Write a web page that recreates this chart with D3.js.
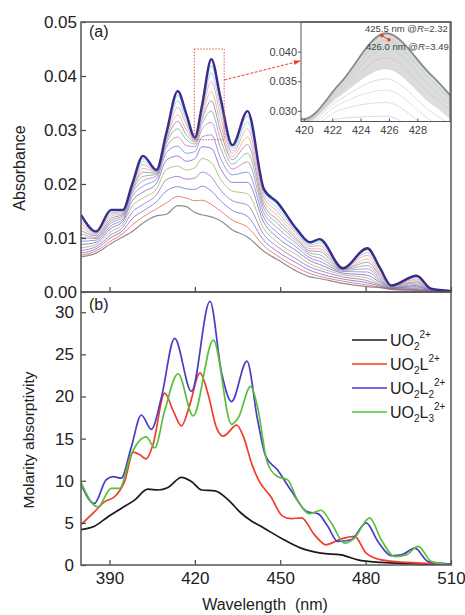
<!DOCTYPE html>
<html lang="en">
<head>
<meta charset="UTF-8">
<script src="https://cdn.jsdelivr.net/npm/d3@7"></script>
<style>
  body{margin:0;background:#fff;}
  text{font-family:"Liberation Sans",Arial,Helvetica,sans-serif;fill:#222;}
</style>
<title>UO2 spectra</title>
</head>
<body>
<svg width="465" height="615"></svg>
<script>
// ---- panel (a): titration spectra, absorbance in units of 1e-4 ----
var wlA = [380,385.3,390.6,394.7,398,401.8,406.5,410,414,417,420,422.5,425.8,429,433.2,438.5,444.3,449,456,460.5,463.8,472,480.6,485,489,497.9,503,510];
var spectraA = [
  [65,72,90,102,112,128,141,144,160,158,147,143,139,132,115,102,75,60,38,28,25,16,10,8,5,3,2,1],
  [68,76,95,108,124,139,154,165,177,174,169,170,162,150,133,120,85,67,45,34,29,20,13,9,5,4,2,1],
  [72,80,101,114,136,150,167,187,195,191,190,196,187,169,151,140,95,75,53,40,34,24,17,11,6,5,2,1],
  [77,84,106,120,148,162,180,208,214,209,211,222,213,189,169,161,106,84,60,46,40,28,21,13,6,6,3,1],
  [82,88,112,126,159,174,191,227,233,226,230,247,240,209,187,182,117,92,68,52,45,32,26,15,7,8,3,1],
  [88,92,118,131,169,185,201,244,252,242,247,269,266,229,203,203,128,101,75,58,51,35,31,18,7,10,3,1],
  [94,96,123,135,177,196,209,258,270,257,260,287,291,248,217,222,137,110,82,63,57,38,37,21,8,12,3,1],
  [101,99,128,139,183,206,215,268,287,271,269,301,314,267,228,241,146,119,88,68,63,40,43,24,8,14,4,1],
  [108,101,132,142,187,214,218,275,302,282,274,311,335,283,237,257,154,127,93,72,69,41,49,27,9,17,4,1],
  [114,104,136,144,190,222,220,280,316,291,278,319,354,298,245,273,161,134,97,76,75,42,55,31,10,19,4,1],
  [121,106,140,146,192,229,222,284,328,300,280,325,371,312,251,287,168,142,101,80,80,42,61,34,10,22,5,1],
  [128,108,144,148,195,236,223,287,342,310,281,331,390,327,257,302,175,149,106,84,86,43,68,37,11,24,5,1],
  [134,109,147,149,196,242,223,289,354,317,282,335,406,340,262,315,181,156,109,87,91,43,73,41,11,27,6,1],
  [139,111,150,150,198,247,224,291,364,324,283,339,419,351,267,326,186,162,112,90,95,43,78,43,12,29,6,1],
  [143,112,152,152,200,252,226,295,372,330,286,345,431,360,272,335,190,166,115,92,98,44,81,45,12,30,6,2]
];
var colorsA = ["#8f8f8f","#e8553f","#5a5fd0","#9b56bd","#8db552","#7a4cc0","#4f83d6","#c463b5",
               "#5fb06e","#8d6bc8","#e8a25e","#e88aa6","#79c6e6","#67c8c0","#3b2c8c"];

// inset annotations
var annWl = [425.5, 426.0];
var annAbs = [0.0427, 0.0420];
var annLabel = [["425.5 nm @","R","=2.32"], ["426.0 nm @","R","=3.49"]];

// ---- panel (b): molar absorptivity of the species ----
var wlK = [380,384.7,389.4,394.1,398.8,403.5,407.1,410.6,415.3,418.8,422.4,427.1,431.8,436.1,440,443.2,450.2,457.3,464.3,471.4,477.3,485.5,495,510];
var epsK = [4.2,4.6,5.7,6.7,7.7,9.0,8.9,9.2,10.4,9.9,8.9,8.8,7.7,6.2,5.2,4.6,3.2,2.0,1.4,1.2,0.6,0.3,0.15,0.05];
var wlR = [380,384.7,388.2,391.8,395.3,398.4,400.6,402.9,405.3,409.4,412.4,415.3,418.2,421.8,424.7,427.6,430,434.7,437.1,440,442.5,446.7,450.8,453.7,457.5,462,466.1,471.4,476.1,480.2,485.5,494.9,510];
var epsR = [4.8,6.3,7.5,8.1,9.9,13.4,13.1,12.6,14.3,20.4,18.3,16.5,19.0,22.8,20.2,16.3,15.3,16.6,15.2,12.0,10.0,8.1,5.8,5.5,5.6,3.6,2.4,3.1,3.4,1.4,0.6,0.3,0.1];
var wlU = [380,384.7,388.8,391.2,394.1,397.6,401.2,404.7,408.2,412.9,418.8,425.3,429.4,432.9,438.3,442,444.9,449,453.7,459.6,463.2,466.7,470.2,474.9,480.2,484.3,489,492.6,497.3,502,506.7,510];
var epsU = [9.6,7.3,10.1,10.5,10.3,13.9,17.8,16.1,19.8,26.9,20.6,31.3,22.8,19.4,24.2,17.3,12.9,11.3,8.9,6.3,6.1,4.6,2.8,3.0,5.0,2.8,1.1,1.2,2.0,0.4,0.2,0.1];
var wlG = [380,385.9,390.6,393.5,397.6,402.9,405.9,409.4,414.1,419.4,426.5,432.9,435.3,439.6,442,445.5,449,452.6,456.1,460.2,464.3,467.9,472.6,476.1,481.4,485.5,490.2,494.3,498.4,503.2,507.9,510];
var epsG = [9.8,6.9,9.1,9.1,13.1,15.2,13.9,18.3,22.7,17.7,26.7,16.7,17.5,21.2,18.8,12.1,10.5,10.1,7.7,6.1,6.5,5.0,2.6,3.2,5.6,3.0,1.0,1.2,2.2,0.4,0.1,0.05];
var speciesColors = ["#1a1a1a","#f03c28","#4a3cc8","#58c03c"];
// legend labels: [text, "" | "sub" | "sup"]
var speciesNames = [
  [["UO",""],["2","sub"],["2+","sup"]],
  [["UO",""],["2","sub"],["L",""],["2+","sup"]],
  [["UO",""],["2","sub"],["L",""],["2","sub"],["2+","sup"]],
  [["UO",""],["2","sub"],["L",""],["3","sub"],["2+","sup"]]
];

var xTicks = [390,420,450,480,510];
var yTicksA = [0,0.01,0.02,0.03,0.04,0.05];
var yTicksB = [0,5,10,15,20,25,30];
var xTicksI = [420,422,424,426,428];
var yTicksI = [0.030,0.035,0.040];

var svg = d3.select("svg");
var x = d3.scaleLinear().domain([380,510]).range([81,451]);
var yA = d3.scaleLinear().domain([0,0.05]).range([292,22]);
var yB = d3.scaleLinear().domain([0,32.4]).range([565,292]);
var xI = d3.scaleLinear().domain([419.8,430.3]).range([301,450]);
var yI = d3.scaleLinear().domain([0.0282,0.045]).range([121.5,22]);

var defs = svg.append("defs");
function clip(id, r){
  defs.append("clipPath").attr("id",id).append("rect")
    .attr("x",r[0]).attr("y",r[1]).attr("width",r[2]-r[0]).attr("height",r[3]-r[1]);
}
clip("clipA",[81,22,451,292]);
clip("clipB",[81,292,451,565]);
clip("clipI",[301,22,450,121.5]);
defs.append("marker").attr("id","arrow").attr("viewBox","0 0 10 10")
  .attr("refX",9).attr("refY",5).attr("markerWidth",7).attr("markerHeight",7)
  .attr("orient","auto").attr("markerUnits","userSpaceOnUse")
  .append("path").attr("d","M0,1.5L10,5L0,8.5z").attr("fill","#e8402a");
var grad = defs.append("linearGradient").attr("id","wedge")
  .attr("x1","0").attr("y1","0").attr("x2","1").attr("y2","1");
grad.append("stop").attr("offset","0").attr("stop-color","#c8c8c8");
grad.append("stop").attr("offset","1").attr("stop-color","#f2f2f2");

var pts = spectraA.map(function(s){ return s.map(function(v,i){ return [wlA[i], v*1e-4]; }); });
var last = pts.length-1;

// ---- panel (a) curves ----
var lineA = d3.line().x(function(d){return x(d[0]);}).y(function(d){return yA(d[1]);}).curve(d3.curveMonotoneX);
var gA = svg.append("g").attr("clip-path","url(#clipA)");
gA.selectAll("path").data(pts).enter().append("path")
  .attr("d",lineA).attr("fill","none")
  .attr("stroke",function(d,i){return colorsA[i];})
  .attr("stroke-opacity",function(d,i){return i==last||i==0?1:0.8;})
  .attr("stroke-width",function(d,i){return i==last?2.4:(i==0?1.2:0.9);});

// ---- inset ----
var gI = svg.append("g");
gI.append("rect").attr("x",301).attr("y",22).attr("width",149).attr("height",99.5).attr("fill","#fff");
var gIc = gI.append("g").attr("clip-path","url(#clipI)");
var areaI = d3.area().x(function(d){return xI(d[0]);})
  .y0(function(d,i){return yI(pts[10][i][1]);}).y1(function(d){return yI(d[1]);}).curve(d3.curveMonotoneX);
gIc.append("path").datum(pts[last]).attr("d",areaI).attr("fill","url(#wedge)").attr("opacity",0.8);
var lineI = d3.line().x(function(d){return xI(d[0]);}).y(function(d){return yI(d[1]);}).curve(d3.curveMonotoneX);
gIc.selectAll("path.c").data(pts).enter().append("path").attr("class","c")
  .attr("d",lineI).attr("fill","none")
  .attr("stroke",function(d,i){return i==last?"#8a8a8a":colorsA[i];})
  .attr("stroke-opacity",function(d,i){return i==last?1:0.35;})
  .attr("stroke-width",function(d,i){return i==last?1.8:0.8;});
gI.append("line").attr("x1",xI(annWl[0])).attr("y1",yI(annAbs[0]))
  .attr("x2",xI(annWl[1])).attr("y2",yI(annAbs[1])).attr("stroke","#e8402a").attr("stroke-width",1);
gI.selectAll("circle").data(annWl).enter().append("circle")
  .attr("cx",function(d){return xI(d);}).attr("cy",function(d,i){return yI(annAbs[i]);})
  .attr("r",1.8).attr("fill","#e8402a");
annLabel.forEach(function(a,i){
  var t = gI.append("text").attr("x",365+i).attr("y",[32,50][i]).attr("font-size",9.5).style("fill","#444");
  t.append("tspan").text(a[0]);
  t.append("tspan").attr("font-style","italic").text(a[1]);
  t.append("tspan").text(a[2]);
});
gI.append("rect").attr("x",301).attr("y",22).attr("width",149).attr("height",99.5)
  .attr("fill","none").attr("stroke","#555").attr("stroke-width",1);
var axIL = gI.append("g").attr("transform","translate(301,0)")
  .call(d3.axisLeft(yI).tickValues(yTicksI).tickFormat(d3.format(".3f")).tickSize(3).tickPadding(1));
var axIB = gI.append("g").attr("transform","translate(0,121.5)")
  .call(d3.axisBottom(xI).tickValues(xTicksI).tickFormat(d3.format("d")).tickSize(-3).tickPadding(5));
[axIL,axIB].forEach(function(a){
  a.select(".domain").remove();
  a.selectAll("line").attr("stroke","#555");
  a.selectAll("text").attr("font-size",11).attr("font-family",null).style("fill","#444");
});

// zoom box and arrow
svg.append("rect").attr("x",x(419.8)).attr("y",yA(0.045))
  .attr("width",x(430.3)-x(419.8)).attr("height",yA(0.0282)-yA(0.045))
  .attr("fill","none").attr("stroke","#e8553f").attr("stroke-width",1).attr("stroke-dasharray","1.5,1.5");
svg.append("line").attr("x1",x(430.3)).attr("y1",80).attr("x2",300).attr("y2",61)
  .attr("stroke","#e8402a").attr("stroke-width",1).attr("stroke-dasharray","3,1.5")
  .attr("marker-end","url(#arrow)");

// ---- panel (b) curves ----
var species = [[wlK,epsK],[wlR,epsR],[wlU,epsU],[wlG,epsG]].map(function(s){
  return s[0].map(function(w,i){ return [w, s[1][i]]; });
});
var lineB = d3.line().x(function(d){return x(d[0]);}).y(function(d){return yB(d[1]);}).curve(d3.curveMonotoneX);
var gB = svg.append("g").attr("clip-path","url(#clipB)");
gB.selectAll("path").data(species).enter().append("path")
  .attr("d",lineB).attr("fill","none").attr("stroke-width",1.7)
  .attr("stroke",function(d,i){return speciesColors[i];});

// legend
speciesNames.forEach(function(parts,i){
  var yy = 340 + i*24;
  svg.append("line").attr("x1",352).attr("x2",387).attr("y1",yy).attr("y2",yy)
    .attr("stroke",speciesColors[i]).attr("stroke-width",1.7);
  var t = svg.append("text").attr("x",390).attr("y",yy+6).attr("font-size",16);
  var shift = 0;
  parts.forEach(function(p){
    var target = p[1]=="sub"?4:(p[1]=="sup"?-8:0);
    t.append("tspan").attr("dy",target-shift)
      .attr("font-size",p[1]==""?16:10).text(p[0]);
    shift = target;
  });
});

// ---- axes ----
function styleAxis(a, fs){
  a.select(".domain").remove();
  a.selectAll("line").attr("stroke","#444").attr("stroke-width",1.2);
  a.selectAll("text").attr("font-size",fs).attr("font-family",null).style("fill","#222");
}
styleAxis(svg.append("g").attr("transform","translate(81,0)")
  .call(d3.axisLeft(yA).tickValues(yTicksA).tickFormat(d3.format(".2f")).tickSize(-5).tickPadding(4)),17);
styleAxis(svg.append("g").attr("transform","translate(0,292)")
  .call(d3.axisBottom(x).tickValues(xTicks).tickFormat("").tickSize(-5)),17);
styleAxis(svg.append("g").attr("transform","translate(81,0)")
  .call(d3.axisLeft(yB).tickValues(yTicksB).tickFormat(d3.format("d")).tickSize(-5).tickPadding(7)),17);
styleAxis(svg.append("g").attr("transform","translate(0,565)")
  .call(d3.axisBottom(x).tickValues(xTicks).tickFormat(d3.format("d")).tickSize(-5).tickPadding(7)),17);

// panel frames
svg.append("rect").attr("x",81).attr("y",22).attr("width",370).attr("height",270)
  .attr("fill","none").attr("stroke","#555").attr("stroke-width",1.5);
svg.append("rect").attr("x",81).attr("y",292).attr("width",370).attr("height",273)
  .attr("fill","none").attr("stroke","#555").attr("stroke-width",1.5);

// labels
svg.append("text").attr("x",89).attr("y",37).attr("font-size",16).text("(a)");
svg.append("text").attr("x",89).attr("y",310).attr("font-size",16).text("(b)");
svg.append("text").attr("transform","translate(25,168) rotate(-90)")
  .attr("text-anchor","middle").attr("font-size",16).text("Absorbance");
svg.append("text").attr("transform","translate(34,440) rotate(-90)")
  .attr("text-anchor","middle").attr("font-size",15.5).text("Molarity absorptivity");
svg.append("text").attr("x",265).attr("y",610).attr("text-anchor","middle")
  .attr("font-size",16).attr("xml:space","preserve").text("Wavelength  (nm)");
</script>
</body>
</html>
